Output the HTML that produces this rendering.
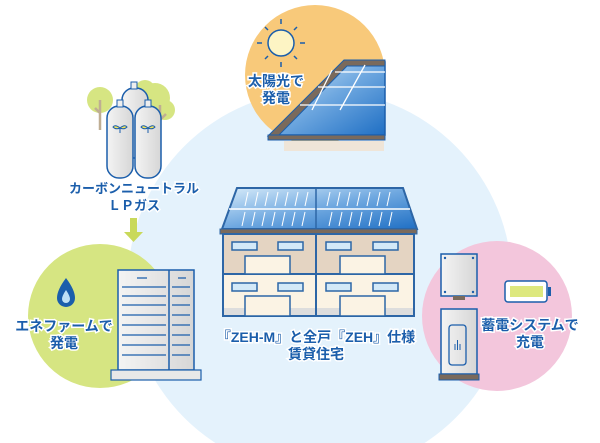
<!DOCTYPE html>
<html><head><meta charset="utf-8"><style>
html,body{margin:0;padding:0;background:#fff;width:600px;height:443px;overflow:hidden;}
svg{display:block;}
text{font-family:"Liberation Sans","Noto Sans CJK JP",sans-serif;font-weight:bold;fill:#1b5eab;stroke:#fff;stroke-width:3;paint-order:stroke;text-anchor:middle;}
</style></head><body>
<svg width="600" height="443" viewBox="0 0 600 443" xmlns="http://www.w3.org/2000/svg">
<defs>
<linearGradient id="pv" x1="0" y1="0" x2="1" y2="1"><stop offset="0" stop-color="#d8ecfa"/><stop offset=".5" stop-color="#6fa8e0"/><stop offset="1" stop-color="#1f6fc4"/></linearGradient>
<linearGradient id="gr" x1="0" y1="0" x2="1" y2="0"><stop offset="0" stop-color="#f4f4f4"/><stop offset="1" stop-color="#d6d6d6"/></linearGradient>
</defs>
<circle cx="320" cy="282" r="192" fill="#e4f2fc"/>
<circle cx="315" cy="75" r="70" fill="#f8c97a"/>
<g stroke="#1b5eab" stroke-width="1.5" fill="#fdf4c4">
<circle cx="281" cy="43" r="13"/>
<path d="M281 24v-5M281 62v5M262 43h-5M300 43h5M268 30l-3-3M294 56l3 3M294 30l3-3M268 56l-3 3" fill="none"/>
</g>
<text x="276" y="86" font-size="14">太陽光で</text>
<text x="276" y="103" font-size="14">発電</text>
<polygon points="270,135 345,62 385,62 385,135" fill="url(#pv)" stroke="#1b5eab" stroke-width="1.5"/>
<path d="M268 136 L344 60 L385 60 L385 66 L347 66 L278 136 Z" fill="#7a6a5c" stroke="#1b5eab" stroke-width="1"/>
<path d="M300 105h85M318 87h67M335 72h50M312 110l20-40M340 110l25-45" stroke="#fff" stroke-width="1.3" fill="none"/>
<rect x="268" y="135" width="117" height="5" fill="#7a6a5c" stroke="#1b5eab"/>
<rect x="284" y="141" width="100" height="10" fill="#efe5d8"/>
<circle cx="100" cy="316" r="72" fill="#d6e582"/>
<circle cx="100" cy="100" r="13" fill="#d6e582"/><circle cx="155" cy="98" r="15" fill="#d6e582"/><circle cx="145" cy="90" r="10" fill="#d6e582"/><circle cx="165" cy="110" r="10" fill="#d6e582"/>
<path d="M100 100v30M95 108l5 5M160 105v30M155 115l5 5l6-6" stroke="#bfae93" stroke-width="2.5" fill="none"/>
<rect x="122" y="88" width="26" height="70" rx="12" fill="url(#gr)" stroke="#1b5eab" stroke-width="1.5"/>
<rect x="131" y="82" width="6" height="7" fill="#eee" stroke="#1b5eab"/>
<rect x="107" y="106" width="26" height="72" rx="12" fill="url(#gr)" stroke="#1b5eab" stroke-width="1.5"/>
<rect x="135" y="106" width="26" height="72" rx="12" fill="url(#gr)" stroke="#1b5eab" stroke-width="1.5"/>
<rect x="117" y="100" width="6" height="7" fill="#eee" stroke="#1b5eab"/><rect x="145" y="100" width="6" height="7" fill="#eee" stroke="#1b5eab"/>
<path d="M120 128q-5-4-7-1q3 3 7 1q5-4 7-1q-3 3-7 1v5M148 128q-5-4-7-1q3 3 7 1q5-4 7-1q-3 3-7 1v5" fill="#f1e35b" stroke="#1b5eab"/>
<text x="134" y="193" font-size="13">カーボンニュートラル</text>
<text x="134" y="210" font-size="13">ＬＰガス</text>
<polygon points="130,218 137,218 137,232 143,232 133.5,242 124,232 130,232" fill="#c9d95a"/>
<path d="M66 278q-9 12-9 20a9 9 0 0 0 18 0q0-8-9-20z" fill="#1b5eab"/><path d="M66 290q-4 6-4 9a4 4 0 0 0 8 0q0-3-4-9z" fill="#bfe0f6"/>
<text x="64" y="331" font-size="14">エネファームで</text>
<text x="64" y="348" font-size="14">発電</text>
<rect x="118" y="270" width="76" height="100" fill="url(#gr)" stroke="#1b5eab" stroke-width="1.5"/>
<line x1="169" y1="270" x2="169" y2="370" stroke="#1b5eab" stroke-width="1.5"/>
<g stroke="#1b5eab" stroke-width="1.2"><path d="M137 278h10M178 278h8M122 287h44M122 296h44M122 305h44M122 315h44M122 325h44M122 335h44M122 345h44M122 355h44M172 287h18M172 296h18M172 305h18M172 315h18M172 325h18M172 335h18M172 345h18M172 355h18"/></g>
<rect x="111" y="370" width="90" height="10" fill="#e8e8e8" stroke="#1b5eab" stroke-width="1.2"/>
<circle cx="497" cy="316" r="75" fill="#f3c6dc"/>
<rect x="441" y="254" width="36" height="42" fill="url(#gr)" stroke="#1b5eab" stroke-width="1.5"/>
<rect x="453" y="296" width="12" height="4" fill="#7a6a5c"/>
<g fill="#1b5eab"><circle cx="445" cy="258" r="1.2"/><circle cx="473" cy="258" r="1.2"/><circle cx="445" cy="292" r="1.2"/><circle cx="473" cy="292" r="1.2"/></g>
<rect x="441" y="309" width="36" height="65" fill="url(#gr)" stroke="#1b5eab" stroke-width="1.5"/>
<rect x="449" y="325" width="17" height="40" rx="3" fill="none" stroke="#1b5eab" stroke-width="1.3"/>
<path d="M455 350v-6M457.5 350v-10M460 350v-6" stroke="#1b5eab"/>
<rect x="439" y="374" width="40" height="6" fill="#7a6a5c" stroke="#1b5eab"/>
<rect x="505" y="281" width="42" height="21" rx="3" fill="#fff" stroke="#1b5eab" stroke-width="1.5"/>
<rect x="548" y="287" width="3" height="9" fill="#1b5eab"/>
<rect x="510" y="286" width="33" height="11" fill="#dde87e"/>
<text x="530" y="330" font-size="14">蓄電システムで</text>
<text x="530" y="347" font-size="14">充電</text>
<polygon points="237,188 403,188 417,229 222,229" fill="url(#pv)" stroke="#2d66a6" stroke-width="2"/>
<line x1="229" y1="209" x2="410" y2="209" stroke="#fff" stroke-width="1.5"/>
<line x1="316" y1="188" x2="316" y2="229" stroke="#2d66a6" stroke-width="1.5"/>
<g stroke="#fff" stroke-width="1"><path d="M248 192l-3 14M258 192l-3 14M268 192l-3 14M278 192l-3 14M288 192l-3 14M298 192l-3 14M308 192l-3 14M330 192l-3 14M340 192l-3 14M350 192l-3 14M360 192l-3 14M370 192l-3 14M380 192l-3 14M390 192l-3 14M245 212l-3 14M255 212l-3 14M265 212l-3 14M275 212l-3 14M285 212l-3 14M295 212l-3 14M305 212l-3 14M332 212l-3 14M342 212l-3 14M352 212l-3 14M362 212l-3 14M372 212l-3 14M382 212l-3 14M392 212l-3 14"/></g>
<rect x="220" y="229" width="197" height="5" fill="#7a6a5c" stroke="#2d66a6"/>
<rect x="223" y="234" width="191" height="40" fill="#e4d4c2" stroke="#2d66a6" stroke-width="2"/>
<rect x="223" y="274" width="191" height="42" fill="#fbf3e4" stroke="#2d66a6" stroke-width="2"/>
<rect x="224" y="308" width="189" height="7" fill="#ddd"/>
<line x1="316" y1="234" x2="316" y2="316" stroke="#2d66a6" stroke-width="2"/>
<g fill="#d3e9f8" stroke="#2d66a6" stroke-width="1.5">
<rect x="232" y="242" width="25" height="8"/><rect x="278" y="242" width="25" height="8"/><rect x="326" y="242" width="25" height="8"/><rect x="373" y="242" width="25" height="8"/>
<rect x="232" y="283" width="25" height="8"/><rect x="278" y="283" width="25" height="8"/><rect x="326" y="283" width="25" height="8"/><rect x="373" y="283" width="25" height="8"/>
</g>
<g fill="#fbf3e4" stroke="#2d66a6" stroke-width="1.5">
<rect x="245" y="256" width="45" height="18"/><rect x="340" y="256" width="45" height="18"/>
<rect x="245" y="296" width="45" height="20"/><rect x="340" y="296" width="45" height="20"/>
</g>
<text x="316" y="342" font-size="14">『ZEH-M』と全戸『ZEH』仕様</text>
<text x="316" y="359" font-size="14">賃貸住宅</text>
</svg>
</body></html>
